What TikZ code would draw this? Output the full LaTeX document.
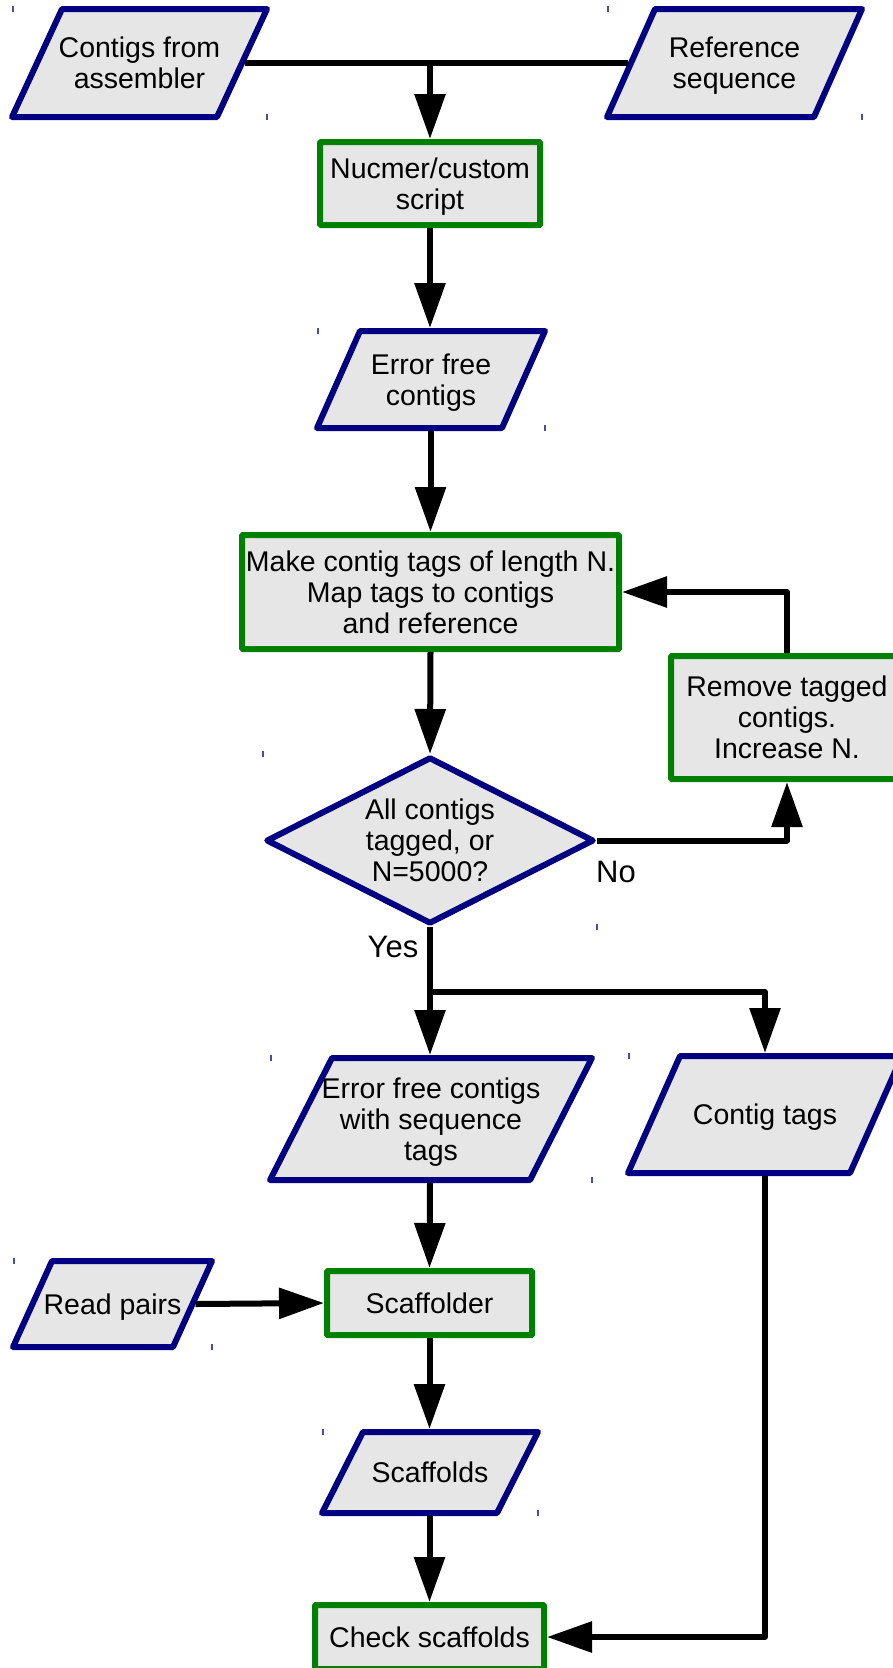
\documentclass[tikz,border=0pt]{standalone}
\usepackage{fontspec}
\setmainfont{Liberation Sans}
\usetikzlibrary{shapes.geometric,arrows.meta,calc}
\pgfdeclarelayer{background}
\pgfsetlayers{background,main}
\definecolor{ionavy}{HTML}{000080}
\definecolor{procgreen}{HTML}{008000}
\definecolor{boxfill}{HTML}{E6E6E6}
\definecolor{tickblue}{HTML}{4A4AA8}
% invisible rules that set the vertical placement of a text block in its node
\newcommand\topstrut{\rule{0pt}{27pt}}
\newcommand\botstrut{\rule[-6.6pt]{0pt}{6.6pt}}

\begin{document}
\begin{tikzpicture}[x=1pt,y=-1pt,
  base/.style={font=\fontsize{28.5}{31}\selectfont, align=center,
               line width=6pt, inner sep=0pt, execute at end node=\botstrut},
  io/.style={base, rectangle, outer sep=3pt},
  ioshape/.style={draw=ionavy, fill=boxfill, line width=6pt, line join=round},
  proc/.style={base, draw=procgreen, fill=boxfill, rectangle, rounded corners=1pt},
  decision/.style={base, draw=ionavy, fill=boxfill, diamond, aspect=1.96, line join=round},
  flow/.style={line width=6pt, line join=round, -{Triangle[length=45pt,width=30pt]}},
  link/.style={line width=6pt, line join=round},
  lbl/.style={font=\fontsize{31}{34}\selectfont, inner sep=0pt},
  marker/.style={tickblue, line width=1.2pt},
]
\useasboundingbox (0,0) rectangle (893,1668);

% --- nodes (slanted data shapes are drawn behind their text below) ------
\node[io, minimum width=255pt, minimum height=108pt] (asm) at (139.5,63) {\topstrut Contigs from\\assembler};
\node[io, minimum width=255pt, minimum height=108pt] (ref) at (734.5,63) {\topstrut Reference\\sequence};
\node[proc, minimum width=220pt, minimum height=83pt] (nuc) at (430,183.5) {\topstrut Nucmer/custom\\script};
\node[io, minimum width=228pt, minimum height=97pt] (efc) at (431,379.5) {\topstrut Error free\\contigs};
\node[proc, minimum width=377pt, minimum height=114pt] (make) at (430.5,592) {\topstrut Make contig tags of length N.\\Map tags to contigs\\and reference};
\node[proc, minimum width=232pt, minimum height=123pt] (rem) at (787,717.5) {\topstrut Remove tagged\\contigs.\\Increase N.};
\node[decision, minimum width=328pt, minimum height=167pt] (dec) at (430,840.5) {\topstrut All contigs\\tagged, or\\N=5000?};
\node[io, minimum width=322pt, minimum height=122pt] (eft) at (431,1119) {\topstrut Error free contigs\\with sequence\\tags};
\node[io, minimum width=274pt, minimum height=117pt] (ctg) at (765,1114.5) {\topstrut Contig tags};
\node[io, minimum width=199pt, minimum height=86pt] (rp) at (112.5,1304) {\topstrut Read pairs};
\node[proc, minimum width=205pt, minimum height=64pt] (scf) at (429.5,1303) {\topstrut Scaffolder};
\node[io, minimum width=216pt, minimum height=81pt] (sfs) at (430,1472.5) {\topstrut Scaffolds};
\node[proc, minimum width=229pt, minimum height=64pt] (chk) at (429.5,1637) {\topstrut Check scaffolds};

% --- parallelograms of the data nodes, with their corner markers ---------
\begin{pgfonlayer}{background}
\foreach \n/\s in {asm/50,ref/48,efc/43,eft/62,ctg/52,rp/39,sfs/41} {
  \draw[ioshape]
    ($(\n.north west)+(3+\s,3)$) -- ($(\n.north east)+(-3,3)$)
    -- ($(\n.south east)+(-3-\s,-3)$) -- ($(\n.south west)+(3,-3)$) -- cycle;
}
\end{pgfonlayer}
\foreach \n in {asm,ref,efc,eft,ctg,rp,sfs} {
  \draw[marker] ($(\n.north west)+(4,0)$) -- ++(0,6);
  \draw[marker] ($(\n.south east)+(-3,-6)$) -- ++(0,6);
}
\draw[marker] ($(dec.west |- dec.north)+(0,-3)$) -- ++(0,6);
\draw[marker] ($(dec.east |- dec.south)+(0,-3)$) -- ++(0,6);

% --- connectors ----------------------------------------------------------
\coordinate (asmedge) at ($(asm.east)+(-25,0)$);
\coordinate (refedge) at ($(ref.west)+(24,0)$);
\coordinate (rpedge) at ($(rp.east)+(-19.5,0)$);

\draw[link] (asmedge) -- (refedge);
\draw[flow] (asmedge -| nuc.north) -- (nuc.north);
\draw[flow] (nuc.south) -- (nuc.south |- efc.north);
\draw[flow] (make.north |- efc.south) -- (make.north);
\draw[flow] (make.south) -- (dec.north);
\draw[flow] (dec.east) -| (rem.south);
\draw[flow] (rem.north) |- (make.east);
\node[lbl] (no) at (616,872) {No};

\path (dec.south) ++(0,65) coordinate (split);
\draw[flow] (dec.south) -- (dec.south |- eft.north);
\draw[flow] (split) -| (ctg.north);
\node[lbl] (yes) at (393,947) {Yes};

\draw[flow] (dec.south |- eft.south) -- (scf.north);
\draw[flow] (rpedge) -- (scf.west);
\draw[flow] (scf.south) -- (scf.south |- sfs.north);
\draw[flow] (scf.south |- sfs.south) -- (chk.north);
\draw[flow] (ctg.south) |- (chk.east);
\end{tikzpicture}
\end{document}
